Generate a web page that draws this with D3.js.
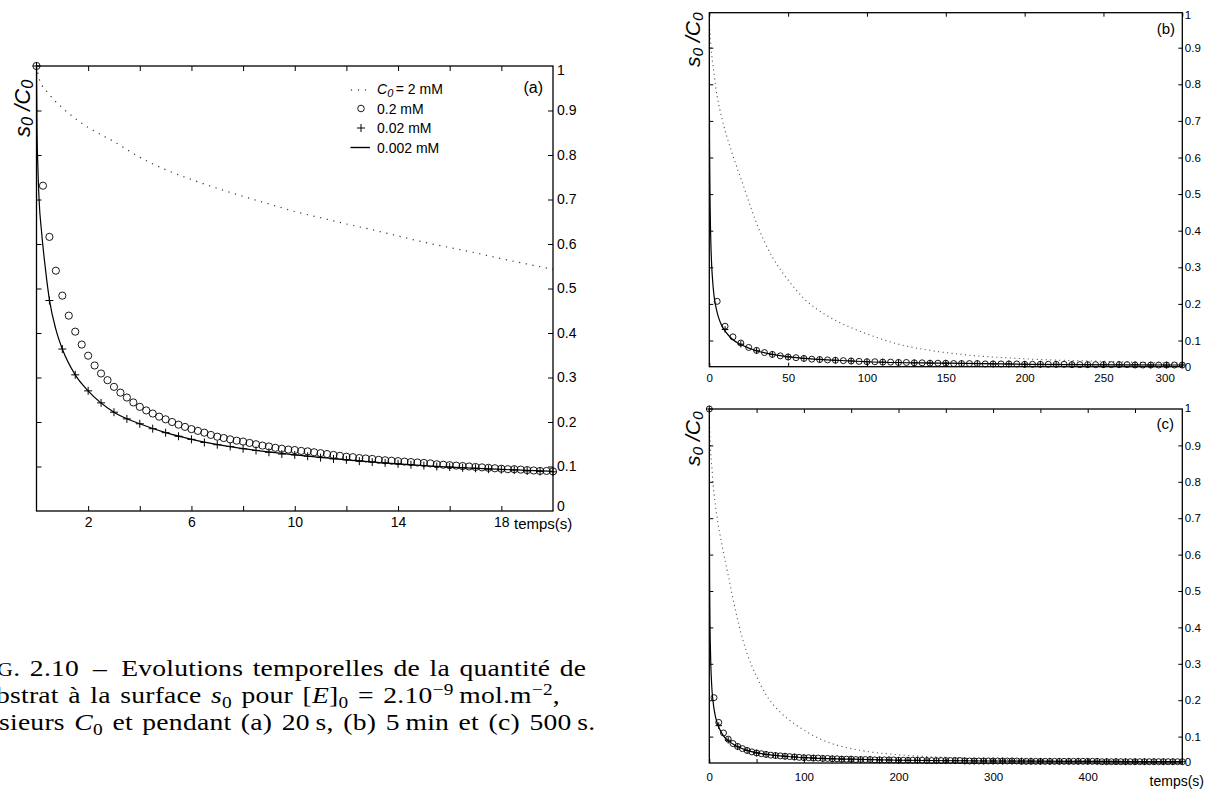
<!DOCTYPE html>
<html>
<head>
<meta charset="utf-8">
<script src="https://cdn.jsdelivr.net/npm/d3@7"></script>
<style>
  html, body { margin: 0; padding: 0; background: #fff; }
  svg { display: block; }
</style>
</head>
<body>
<svg id="fig" width="1206" height="789"></svg>
<script>
// ---------------------------------------------------------------
// s0/C0 versus time for four bulk concentrations C0
// ---------------------------------------------------------------
const seriesNames = ["2 mM", "0.2 mM", "0.02 mM", "0.002 mM"];

// C0 = 2 mM (dotted curve)
const dotTime  = [0, 0.1, 0.5, 1, 1.5, 2, 3, 4, 5, 6, 7, 8, 9, 10, 11, 12, 13, 14, 15, 16, 17, 18, 19, 20,
                  25, 30, 35, 40, 45, 50, 60, 75, 90, 100, 120, 140, 160, 200, 250, 300, 400, 500];
const dotValue = [1, 0.972, 0.936, 0.906, 0.882, 0.862, 0.830, 0.795, 0.767, 0.745, 0.725, 0.707, 0.690, 0.673,
                  0.659, 0.645, 0.632, 0.618, 0.604, 0.592, 0.580, 0.567, 0.555, 0.543,
                  0.480, 0.420, 0.370, 0.328, 0.294, 0.265, 0.215, 0.167, 0.135, 0.118, 0.090, 0.073, 0.062,
                  0.050, 0.043, 0.038, 0.034, 0.032];

// C0 = 0.002 mM (solid curve)
const solidTime  = [0, 0.02, 0.05, 0.1, 0.2, 0.3, 0.4, 0.5, 0.75, 1, 1.5, 2, 3, 4, 5, 6, 8, 10, 12, 15,
                    20, 30, 40, 60, 80, 100, 150, 200, 300, 400, 500];
const solidValue = [1, 0.86, 0.78, 0.70, 0.625, 0.567, 0.517, 0.475, 0.408, 0.364, 0.306, 0.270, 0.222, 0.196,
                    0.176, 0.161, 0.140, 0.126, 0.115, 0.102, 0.089, 0.072, 0.062, 0.051, 0.046, 0.042,
                    0.038, 0.035, 0.033, 0.032, 0.031];

// C0 = 0.2 mM (circles), first 20 s, one point every 0.25 s
const circTimeShort = [0, 0.25, 0.5, 0.75, 1, 1.25, 1.5, 1.75, 2, 2.25, 2.5, 2.75, 3, 3.25, 3.5, 3.75, 4,
  4.25, 4.5, 4.75, 5, 5.25, 5.5, 5.75, 6, 6.25, 6.5, 6.75, 7, 7.25, 7.5, 7.75, 8, 8.25, 8.5, 8.75, 9,
  9.25, 9.5, 9.75, 10, 10.25, 10.5, 10.75, 11, 11.25, 11.5, 11.75, 12, 12.25, 12.5, 12.75, 13, 13.25,
  13.5, 13.75, 14, 14.25, 14.5, 14.75, 15, 15.25, 15.5, 15.75, 16, 16.25, 16.5, 16.75, 17, 17.25, 17.5,
  17.75, 18, 18.25, 18.5, 18.75, 19, 19.25, 19.5, 19.75, 20];
const circValueShort = [1,
  0.731, 0.616, 0.540, 0.484, 0.439, 0.403, 0.374, 0.349,
  0.327, 0.309, 0.294, 0.279, 0.266, 0.255, 0.244, 0.234,
  0.226, 0.219, 0.212, 0.206, 0.200, 0.194, 0.189, 0.184,
  0.180, 0.176, 0.171, 0.167, 0.164, 0.161, 0.158, 0.156,
  0.153, 0.150, 0.147, 0.145, 0.142, 0.140, 0.138, 0.137,
  0.135, 0.134, 0.132, 0.130, 0.128, 0.126, 0.124, 0.122,
  0.121, 0.119, 0.118, 0.117, 0.115, 0.114, 0.113, 0.112,
  0.111, 0.110, 0.109, 0.108, 0.107, 0.105, 0.104, 0.103,
  0.102, 0.101, 0.100, 0.099, 0.098, 0.097, 0.096, 0.095,
  0.094, 0.094, 0.093, 0.092, 0.091, 0.090, 0.090, 0.089];

// C0 = 0.02 mM (plus signs), first 20 s, one point every 0.5 s
const plusTimeShort = [0, 0.5, 1, 1.5, 2, 2.5, 3, 3.5, 4, 4.5, 5, 5.5, 6, 6.5, 7, 7.5, 8, 8.5, 9, 9.5, 10,
  10.5, 11, 11.5, 12, 12.5, 13, 13.5, 14, 14.5, 15, 15.5, 16, 16.5, 17, 17.5, 18, 18.5, 19, 19.5, 20];
const plusValueShort = [1,
  0.473, 0.364, 0.306, 0.270, 0.243, 0.222, 0.207, 0.196, 0.185, 0.176,
  0.168, 0.161, 0.154, 0.149, 0.145, 0.140, 0.136, 0.132, 0.128, 0.126,
  0.123, 0.120, 0.117, 0.115, 0.112, 0.110, 0.108, 0.106, 0.104, 0.102,
  0.100, 0.099, 0.097, 0.096, 0.094, 0.093, 0.092, 0.090, 0.089, 0.088];

// C0 = 0.2 mM (circles), long runs, one point every 5 s
const circTimeLong = [0, 5, 10, 15, 20, 25, 30, 35, 40, 45, 50, 55, 60, 65, 70, 75, 80, 85, 90, 95, 100,
  105, 110, 115, 120, 125, 130, 135, 140, 145, 150, 155, 160, 165, 170, 175, 180, 185, 190, 195, 200,
  205, 210, 215, 220, 225, 230, 235, 240, 245, 250, 255, 260, 265, 270, 275, 280, 285, 290, 295, 300,
  305, 310, 315, 320, 325, 330, 335, 340, 345, 350, 355, 360, 365, 370, 375, 380, 385, 390, 395, 400,
  405, 410, 415, 420, 425, 430, 435, 440, 445, 450, 455, 460, 465, 470, 475, 480, 485, 490, 495, 500];
const circValueLong = [1,
  0.207, 0.139, 0.110, 0.093, 0.081, 0.073, 0.067, 0.062, 0.058, 0.055,
  0.053, 0.051, 0.049, 0.048, 0.047, 0.046, 0.045, 0.044, 0.043, 0.042,
  0.042, 0.041, 0.041, 0.040, 0.040, 0.039, 0.039, 0.038, 0.038, 0.038,
  0.037, 0.037, 0.037, 0.037, 0.036, 0.036, 0.036, 0.036, 0.036, 0.035,
  0.035, 0.035, 0.035, 0.035, 0.035, 0.034, 0.034, 0.034, 0.034, 0.034,
  0.034, 0.034, 0.034, 0.033, 0.033, 0.033, 0.033, 0.033, 0.033, 0.033,
  0.033, 0.033, 0.033, 0.033, 0.033, 0.032, 0.032, 0.032, 0.032, 0.032,
  0.032, 0.032, 0.032, 0.032, 0.032, 0.032, 0.032, 0.032, 0.032, 0.032,
  0.032, 0.032, 0.031, 0.031, 0.031, 0.031, 0.031, 0.031, 0.031, 0.031,
  0.031, 0.031, 0.031, 0.031, 0.031, 0.031, 0.031, 0.031, 0.031, 0.031];

// C0 = 0.02 mM (plus signs), long runs, one point every 10 s
const plusTimeLong = [0, 10, 20, 30, 40, 50, 60, 70, 80, 90, 100, 110, 120, 130, 140, 150, 160, 170, 180,
  190, 200, 210, 220, 230, 240, 250, 260, 270, 280, 290, 300, 310, 320, 330, 340, 350, 360, 370, 380,
  390, 400, 410, 420, 430, 440, 450, 460, 470, 480, 490, 500];
const plusValueLong = [1,
  0.130, 0.090, 0.072, 0.062, 0.055, 0.051, 0.048, 0.046, 0.044, 0.042,
  0.041, 0.040, 0.039, 0.038, 0.038, 0.037, 0.037, 0.036, 0.036, 0.035,
  0.035, 0.035, 0.035, 0.034, 0.034, 0.034, 0.034, 0.033, 0.033, 0.033,
  0.033, 0.033, 0.033, 0.033, 0.032, 0.032, 0.032, 0.032, 0.032, 0.032,
  0.032, 0.032, 0.032, 0.031, 0.031, 0.031, 0.031, 0.031, 0.031, 0.031];

// Tick values and labels
const yTickValues = [0.1, 0.2, 0.3, 0.4, 0.5, 0.6, 0.7, 0.8, 0.9];
const yEndLabels  = ["0", "1"];
const xTicksA  = [2, 4, 6, 8, 10, 12, 14, 16, 18];
const xLabelsA = [2, 6, 10, 14, 18];
const xTicksB  = [0, 50, 100, 150, 200, 250, 300];
const xLabelsB = [0, 50, 100, 150, 200, 250, 300];
const xTicksC  = [50, 100, 150, 200, 250, 300, 350, 400, 450];
const xLabelsC = [0, 100, 200, 300, 400];
const timeTitle = "temps(s)";

// ---------------------------------------------------------------
const SANS = "'Liberation Sans', Arial, Helvetica, sans-serif";
const SERIF = "'Liberation Serif', 'Times New Roman', serif";
const svg = d3.select("#fig");
const defs = svg.append("defs");

function pairs(t, v) { return t.map((d, i) => [d, v[i]]); }

function drawPanel(p) {
  const g = svg.append("g").attr("class", "panel-" + p.id);
  const x = d3.scaleLinear().domain(p.xDomain).range([p.left, p.right]);
  const y = d3.scaleLinear().domain([0, 1]).range([p.yZero, p.yOne]);

  defs.append("clipPath").attr("id", "clip-" + p.id)
    .append("rect")
    .attr("x", p.left).attr("y", p.top)
    .attr("width", p.right - p.left).attr("height", p.bottom - p.top);

  const line = d3.line().x(d => x(d[0])).y(d => y(d[1])).curve(d3.curveMonotoneX);
  const curves = g.append("g").attr("clip-path", `url(#clip-${p.id})`);

  // 2 mM : dotted
  curves.append("path")
    .datum(pairs(dotTime, dotValue))
    .attr("d", line)
    .attr("fill", "none")
    .attr("stroke", p.dotColor)
    .attr("stroke-width", p.dotWidth)
    .attr("stroke-dasharray", p.dotDash);

  // 0.002 mM : solid
  curves.append("path")
    .datum(pairs(solidTime, solidValue))
    .attr("d", line)
    .attr("fill", "none")
    .attr("stroke", "#000")
    .attr("stroke-width", 1.2);

  const inside = d => d[0] >= p.xDomain[0] && d[0] <= p.xDomain[1] &&
                      y(d[1]) >= p.top - 0.5 && y(d[1]) <= p.bottom + 0.5;

  // 0.2 mM : open circles
  g.append("g").selectAll("circle")
    .data(pairs(p.circT, p.circV).filter(inside))
    .join("circle")
    .attr("cx", d => x(d[0]))
    .attr("cy", d => y(d[1]))
    .attr("r", p.r)
    .attr("fill", "none")
    .attr("stroke", "#000")
    .attr("stroke-width", 0.9);

  // 0.02 mM : plus signs
  const s = p.plus;
  g.append("g").selectAll("path")
    .data(pairs(p.plusT, p.plusV).filter(inside))
    .join("path")
    .attr("transform", d => `translate(${x(d[0])},${y(d[1])})`)
    .attr("d", `M${-s},0H${s}M0,${-s}V${s}`)
    .attr("fill", "none")
    .attr("stroke", "#000")
    .attr("stroke-width", 1);

  // axes (ticks point inward on all four sides)
  const axBottom = g.append("g").attr("transform", `translate(0,${p.bottom})`)
    .call(d3.axisBottom(x).tickValues(p.xTicksBottom).tickSizeInner(-p.tick).tickSizeOuter(0)
      .tickPadding(p.xPad).tickFormat(d => p.xLabels.includes(d) ? String(d) : ""));
  const axTop = g.append("g").attr("transform", `translate(0,${p.top})`)
    .call(d3.axisTop(x).tickValues(p.xTicksTop).tickSizeInner(-p.tick).tickSizeOuter(0).tickFormat(""));
  const axLeft = g.append("g").attr("transform", `translate(${p.left},0)`)
    .call(d3.axisLeft(y).tickValues(yTickValues).tickSizeInner(-p.tick).tickSizeOuter(0).tickFormat(""));
  const axRight = g.append("g").attr("transform", `translate(${p.right},0)`)
    .call(d3.axisRight(y).tickValues(yTickValues).tickSizeInner(-p.tick).tickSizeOuter(0)
      .tickPadding(p.yPad).tickFormat(d3.format(".1f")));

  [axBottom, axTop, axLeft, axRight].forEach(a => {
    a.select(".domain").remove();
    a.attr("font-family", SANS);
    a.selectAll("line").attr("stroke", "#000").attr("stroke-width", 1);
    a.selectAll("text").attr("fill", "#000");
  });
  axBottom.attr("font-size", p.xFont);
  axRight.attr("font-size", p.yFont);

  // last bottom label kept inside the frame when requested
  if (p.lastLabelEnd) {
    axBottom.selectAll(".tick").filter(d => d === p.xDomain[1]).select("text")
      .attr("text-anchor", "end").attr("x", p.lastLabelEnd);
  }

  // end labels of the value axis
  g.append("text").attr("x", p.right + p.yPad).attr("y", p.bottom + p.zeroShift)
    .attr("dy", "0.35em").attr("font-family", SANS).attr("font-size", p.yFont).text(yEndLabels[0]);
  g.append("text").attr("x", p.right + p.yPad).attr("y", p.top + p.oneShift)
    .attr("dy", "0.35em").attr("font-family", SANS).attr("font-size", p.yFont).text(yEndLabels[1]);

  // frame
  g.append("rect")
    .attr("x", p.left).attr("y", p.top)
    .attr("width", p.right - p.left).attr("height", p.bottom - p.top)
    .attr("fill", "none").attr("stroke", "#000").attr("stroke-width", 1.3);

  // panel letter
  g.append("text").attr("x", p.tagX).attr("y", p.tagY)
    .attr("font-family", SANS).attr("font-size", p.tagFont).attr("text-anchor", "end").text(p.tag);

  // y title  s0 / C0
  const yt = g.append("text")
    .attr("transform", `translate(${p.ytX},${p.ytY}) rotate(-90)`)
    .attr("font-family", SANS).attr("font-style", "italic").attr("font-size", p.ytFont);
  yt.append("tspan").text("s");
  yt.append("tspan").attr("font-size", p.ytFont * 0.74).attr("dy", p.ytFont * 0.13).text("0");
  yt.append("tspan").attr("dy", -p.ytFont * 0.13).text("\u00a0/C");
  yt.append("tspan").attr("font-size", p.ytFont * 0.74).attr("dy", p.ytFont * 0.13).text("0");

  return { x, y, g };
}

// ---------------- panel (a): 20 s ----------------
const A = drawPanel({
  id: "a", tag: "(a)",
  left: 36.5, right: 553, top: 66, bottom: 511, yOne: 66, yZero: 511,
  xDomain: [0, 20], xTicksBottom: xTicksA, xTicksTop: xTicksA, xLabels: xLabelsA,
  circT: circTimeShort, circV: circValueShort, plusT: plusTimeShort, plusV: plusValueShort,
  r: 3.6, plus: 4,
  dotColor: "#333", dotWidth: 1.2, dotDash: "1.2 5.6",
  tick: 5, xPad: 6, yPad: 4, xFont: 14, yFont: 14,
  zeroShift: -4.5, oneShift: 4,
  tagX: 543, tagY: 93, tagFont: 16,
  ytX: 30, ytY: 137, ytFont: 22
});
A.g.append("text").attr("x", 514).attr("y", 529)
  .attr("font-family", SANS).attr("font-size", 15).text(timeTitle);

// legend of panel (a)
const leg = A.g.append("g").attr("font-family", SANS).attr("font-size", 14);
const legY = [89, 108.5, 128, 147.5];
[351.5, 358.5, 365.5].forEach(cx => leg.append("circle").attr("cx", cx).attr("cy", legY[0] + 1).attr("r", 0.7).attr("fill", "#333"));
leg.append("circle").attr("cx", 361).attr("cy", legY[1]).attr("r", 3.3).attr("fill", "none").attr("stroke", "#000").attr("stroke-width", 0.9);
leg.append("path").attr("d", `M357,${legY[2]}H365M361,${legY[2] - 4}V${legY[2] + 4}`).attr("stroke", "#000").attr("stroke-width", 1);
leg.append("path").attr("d", `M350.5,${legY[3]}H370`).attr("stroke", "#000").attr("stroke-width", 1.4);
const t0 = leg.append("text").attr("x", 377).attr("y", legY[0] + 5);
t0.append("tspan").attr("font-style", "italic").text("C");
t0.append("tspan").attr("font-style", "italic").attr("font-size", 11).attr("dy", 3).text("0");
t0.append("tspan").attr("dy", -3).attr("dx", 2.5).text("= " + seriesNames[0]);
seriesNames.slice(1).forEach((name, i) => {
  leg.append("text").attr("x", 377).attr("y", legY[i + 1] + 5).text(name);
});

// ---------------- panel (b): 5 min ----------------
drawPanel({
  id: "b", tag: "(b)",
  left: 709.3, right: 1182.3, top: 12.7, bottom: 366.7, yOne: 11.1, yZero: 377.1,
  xDomain: [0, 300], xTicksBottom: xTicksB, xTicksTop: xTicksB, xLabels: xLabelsB,
  circT: circTimeLong, circV: circValueLong, plusT: plusTimeLong, plusV: plusValueLong,
  r: 3.0, plus: 3.3,
  dotColor: "#555", dotWidth: 1.1, dotDash: "1.1 3.4",
  tick: 4, xPad: 7, yPad: 2.5, xFont: 11.5, yFont: 11.5,
  zeroShift: 0, oneShift: 2.3, lastLabelEnd: -8,
  tagX: 1175, tagY: 33.5, tagFont: 15,
  ytX: 700, ytY: 67, ytFont: 21
});

// ---------------- panel (c): 500 s ----------------
const C = drawPanel({
  id: "c", tag: "(c)",
  left: 709.3, right: 1182.3, top: 409, bottom: 763, yOne: 409, yZero: 773,
  xDomain: [0, 500], xTicksBottom: [0].concat(xTicksC), xTicksTop: xTicksC, xLabels: xLabelsC,
  circT: circTimeLong, circV: circValueLong, plusT: plusTimeLong, plusV: plusValueLong,
  r: 3.0, plus: 3.3,
  dotColor: "#555", dotWidth: 1.1, dotDash: "1.1 3.4",
  tick: 4, xPad: 10, yPad: 2.5, xFont: 11.5, yFont: 11.5,
  zeroShift: -1, oneShift: -1,
  tagX: 1174, tagY: 428.5, tagFont: 15,
  ytX: 700, ytY: 466, ytFont: 21
});
C.g.append("text").attr("x", 1204).attr("y", 786).attr("text-anchor", "end")
  .attr("font-family", SANS).attr("font-size", 14).text(timeTitle);

// ---------------- caption (wide book-style serif, drawn horizontally stretched) ----------------
const captionLines = [
  [["G", "sc"], [". 2.10\u2002–\u2002Evolutions temporelles de la quantité de", ""]],
  [["bstrat à la surface ", ""], ["s", "i"], ["0", "sub"], [" pour [", ""], ["E", "i"], ["]", ""], ["0", "sub"],
   [" = 2.10", ""], ["−9", "sup"], ["\u2009mol.m", ""], ["−2", "sup"], [",", ""]],
  [["sieurs ", ""], ["C", "i"], ["0", "sub"], [" et pendant (a) 20\u2009s, (b) 5\u2009min et (c) 500\u2009s.", ""]]
];
const capFont = 23;
const capStretch = 1.2;
const capX = [-3, -4, -1];
const capY = [676, 703, 730];
captionLines.forEach((segs, li) => {
  const t = svg.append("text")
    .attr("transform", `translate(${capX[li]},${capY[li]}) scale(${capStretch},1)`)
    .attr("font-family", SERIF).attr("font-size", capFont)
    .attr("letter-spacing", 0.2).attr("word-spacing", 2)
    .attr("xml:space", "preserve");
  let shift = 0;
  segs.forEach(([txt, kind]) => {
    const ts = t.append("tspan").text(txt);
    let target = 0;
    if (kind === "i") ts.attr("font-style", "italic");
    if (kind === "sc") ts.attr("font-size", capFont * 0.8);
    if (kind === "sub") { ts.attr("font-size", capFont * 0.7); target = capFont * 0.2; }
    if (kind === "sup") { ts.attr("font-size", capFont * 0.7); target = -capFont * 0.34; }
    if (target !== shift) { ts.attr("dy", target - shift); shift = target; }
  });
});
</script>
</body>
</html>
